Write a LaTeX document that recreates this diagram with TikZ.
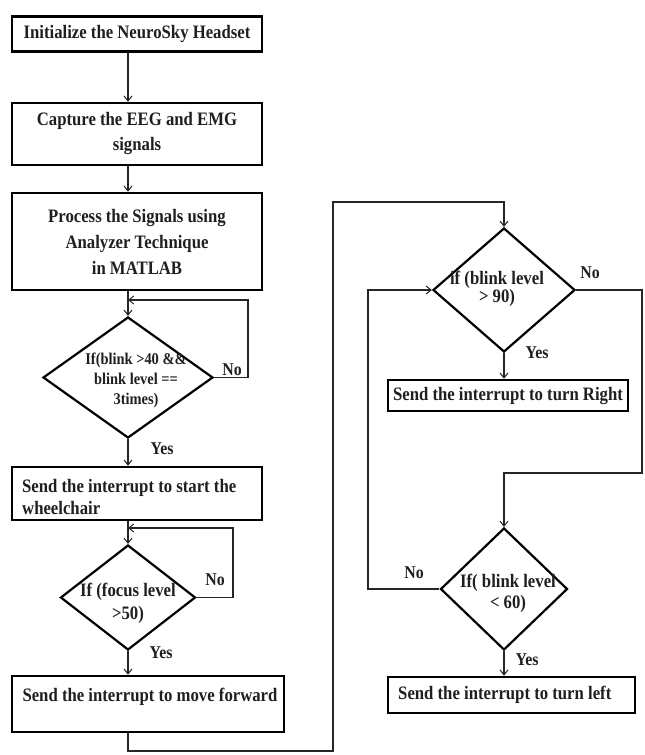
\documentclass[tikz,border=0pt]{standalone}
\usepackage{fontspec}
\setmainfont{Liberation Serif}[FakeStretch=0.88]
\usetikzlibrary{shapes.geometric,arrows.meta}
\begin{document}
\begin{tikzpicture}[x=1pt,y=-1pt,
  box/.style={draw=black,line width=2.6pt,inner sep=0pt,font=\fontsize{19}{25}\selectfont\bfseries,text=black!88,align=center},
  dia/.style={diamond,draw=black,line width=2.2pt,inner sep=0pt},
  txt/.style={font=\fontsize{19}{22}\selectfont\bfseries,text=black!88,inner sep=0pt,align=center},
  stxt/.style={font=\fontsize{16.4}{20}\selectfont\bfseries,text=black!88,inner sep=0pt,align=center},
  lab/.style={font=\fontsize{18}{20}\selectfont\bfseries,text=black!88,inner sep=0pt},
  conn/.style={line width=1.1pt,draw=black!85},
  arr/.style={conn,-{Straight Barb[length=5pt,width=8pt,line width=1pt]}}]
\useasboundingbox (0,0) rectangle (645,755);
% left column boxes
\node[box,minimum width=250pt,minimum height=35pt] (b1) at (137,34) {Initialize the NeuroSky Headset};
\node[box,minimum width=250pt,minimum height=62pt] (b2) at (137,134) {Capture the EEG and EMG\\signals};
\node[box,minimum width=250pt,minimum height=97pt,font=\fontsize{19}{26}\selectfont\bfseries] (b3) at (137,241.5) {Process the Signals using\\Analyzer Technique\\in MATLAB};
\node[dia,minimum width=170pt,minimum height=121pt] (d1) at (128,377.5) {};
\node[stxt] (t1) at (136,380) {If(blink >40 \&\&\\blink level ==\\3times)};
\node[box,minimum width=250pt,minimum height=53pt] (b4) at (137,493.5) {};
\node[txt,anchor=west,align=left] (t4) at (22,496.5) {Send the interrupt to start the\\wheelchair};
\node[dia,minimum width=135pt,minimum height=105pt] (d2) at (128,597.5) {};
\node[txt,font=\fontsize{19}{23}\selectfont\bfseries] (t2) at (128,603) {If (focus level\\>50)};
\node[box,minimum width=272pt,minimum height=56pt] (b5) at (148,704) {};
\node[txt] (t5) at (150,697) {Send the interrupt to move forward};
% right column
\node[dia,minimum width=142pt,minimum height=124pt] (d3) at (504,290) {};
\node[txt,font=\fontsize{19}{18}\selectfont\bfseries] (t3) at (497,289) {if (blink level\\> 90)};
\node[box,minimum width=240pt,minimum height=31pt] (b6) at (508,395.5) {Send the interrupt to turn Right};
\node[dia,minimum width=127pt,minimum height=122pt] (d4) at (504,589) {};
\node[txt,font=\fontsize{19}{21}\selectfont\bfseries] (t6) at (508,593) {If( blink level\\< 60)};
\node[box,minimum width=247pt,minimum height=36pt] (b7) at (511.5,695) {};
\node[txt,anchor=west] (t7) at (398,695) {Send the interrupt to turn left};
% labels
\node[lab] (n1) at (232,370) {No};
\node[lab] (y1) at (162,449) {Yes};
\node[lab] (n2) at (215,580) {No};
\node[lab] (y2) at (161,653) {Yes};
\node[lab] (n3) at (590,273) {No};
\node[lab] (y3) at (537,353) {Yes};
\node[lab] (n4) at (414,573) {No};
\node[lab] (y4) at (527,660) {Yes};
% coordinates
\coordinate (l1) at (248,300);
\coordinate (l2) at (233,528);
\coordinate (p2) at (333,751);
\coordinate (p3) at (333,202);
\coordinate (r1) at (642,473);
\coordinate (lf) at (368,450);
% connectors
\draw[arr] (b1.south -| d1.north) -- (b2.north -| d1.north);
\draw[arr] (b2.south -| d1.north) -- (b3.north -| d1.north);
\draw[arr] (b3.south -| d1.north) -- (d1.north);
\draw[arr] (d1.east) -| (l1) -- (l1 -| d1.north);
\draw[arr] (d1.south) -- (b4.north -| d1.south);
\draw[arr] (b4.south -| d2.north) -- (d2.north);
\draw[arr] (d2.east) -| (l2) -- (l2 -| d2.north);
\draw[arr] (d2.south) -- (b5.north -| d2.south);
\draw[arr] (b5.south -| d2.south) |- (p2) -- (p3) -| (d3.north);
\draw[arr] (d3.east) -| (r1) -| (d4.north);
\draw[arr] (d3.south) -- (b6.north -| d3.south);
\draw[arr] (d4.west) -| (lf) |- (d3.west);
\draw[arr] (d4.south) -- (b7.north -| d4.south);
\end{tikzpicture}
\end{document}
